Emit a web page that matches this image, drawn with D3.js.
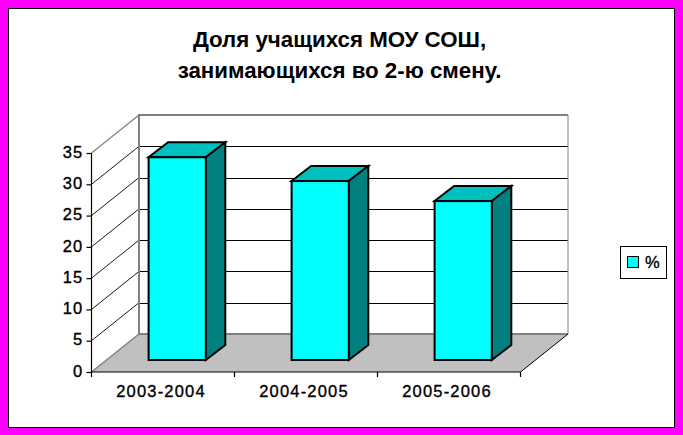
<!DOCTYPE html>
<html><head><meta charset="utf-8">
<script src="https://cdn.jsdelivr.net/npm/d3@7"></script>
<style>
html,body{margin:0;padding:0;background:#fff}
svg{display:block}
text{font-family:"Liberation Sans",Arial,sans-serif;fill:#000}
</style></head><body>
<svg id="c" width="683" height="435"></svg>
<script>
const categories = ["2003-2004","2004-2005","2005-2006"];
const values = [32.4, 28.6, 25.4];
const yTicks = [0,5,10,15,20,25,30,35];
const seriesName = "%";
const titleLines = ["Доля учащихся МОУ СОШ,","занимающихся во 2-ю смену."];

const svg = d3.select("#c");
const W = 683, H = 435;
svg.append("rect").attr("width",W).attr("height",H).attr("fill","#FF00FF");
svg.append("rect").attr("x",8.5).attr("y",8.5).attr("width",666).attr("height",419)
   .attr("fill","#fff").attr("stroke","#000").attr("stroke-width",1);

const x = d3.scaleBand().domain(categories).range([91.5,520.5]).paddingInner(0.6).paddingOuter(0.3);
const y = d3.scaleLinear().domain([0,35]).range([372,153]);
const dx = 47.5, dy = 38;           // full chart depth
const bx = 14.2, bd = 12;           // bar front-face inset from the front edge
const bdx = 19.5, bdy = 15;         // bar depth

const g = svg.append("g");
// floor
g.append("polygon")
 .attr("points",[[x.range()[0],y(0)],[x.range()[1],y(0)],[x.range()[1]+dx,y(0)-dy],[x.range()[0]+dx,y(0)-dy]].join(" "))
 .attr("fill","#C0C0C0");
// gridlines on back and side walls
yTicks.slice(1,-1).forEach(t=>{
  g.append("line").attr("x1",x.range()[0]+dx).attr("x2",x.range()[1]+dx).attr("y1",Math.round(y(t)-dy)+.5).attr("y2",Math.round(y(t)-dy)+.5)
   .attr("stroke","#000").attr("shape-rendering","crispEdges");
  g.append("line").attr("x1",x.range()[0]).attr("x2",x.range()[0]+dx).attr("y1",y(t)).attr("y2",y(t)-dy)
   .attr("stroke","#000").attr("stroke-width",.9);
});
// back wall frame
const bl = x.range()[0]+dx, br = x.range()[1]+dx, bt = y(35)-dy, bb = y(0)-dy;
g.append("path").attr("d",`M${bl},${bb}V${bt}H${br}`).attr("fill","none").attr("stroke","#808080").attr("stroke-width",2);
g.append("path").attr("d",`M${br},${bt}V${bb}`).attr("fill","none").attr("stroke","#808080").attr("stroke-width",1);
g.append("path").attr("d",`M${bl},${bb}H${br}`).attr("fill","none").attr("stroke","#808080").attr("stroke-width",2);
// side wall edges
g.append("line").attr("x1",x.range()[0]).attr("y1",y(35)).attr("x2",bl).attr("y2",bt).attr("stroke","#808080").attr("stroke-width",1.2);
g.append("line").attr("x1",x.range()[0]).attr("y1",y(0)).attr("x2",bl).attr("y2",bb).attr("stroke","#808080").attr("stroke-width",1.5);
g.append("line").attr("x1",x.range()[1]).attr("y1",y(0)).attr("x2",br).attr("y2",bb).attr("stroke","#000").attr("stroke-width",1);

// bars
const bars = g.selectAll("g.bar").data(categories.map((c,i)=>({c,v:values[i]}))).join("g").attr("class","bar");
const fx0 = d => x(d.c)+bx, fx1 = d => x(d.c)+x.bandwidth()+bx, fb = y(0)-bd, ft = d => y(d.v)-bd;
bars.append("polygon").attr("fill","#00BFBF").attr("stroke","#000").attr("stroke-width",2).attr("stroke-linejoin","miter")
 .attr("points",d=>[[fx0(d),ft(d)],[fx1(d),ft(d)],[fx1(d)+bdx,ft(d)-bdy],[fx0(d)+bdx,ft(d)-bdy]].join(" "));
bars.append("polygon").attr("fill","#008080").attr("stroke","#000").attr("stroke-width",2)
 .attr("points",d=>[[fx1(d),ft(d)],[fx1(d)+bdx,ft(d)-bdy],[fx1(d)+bdx,fb-bdy],[fx1(d),fb]].join(" "));
bars.append("rect").attr("fill","#00FFFF").attr("stroke","#000").attr("stroke-width",2)
 .attr("x",fx0).attr("y",ft).attr("width",x.bandwidth()).attr("height",d=>fb-ft(d));

// axes
const yAxis = d3.axisLeft(y).tickValues(yTicks).tickSize(5).tickPadding(3);
const ya = svg.append("g").attr("transform",`translate(${x.range()[0]},0)`).call(yAxis);
const xAxis = d3.axisBottom(x).tickSize(0).tickPadding(15);
const xa = svg.append("g").attr("transform",`translate(0,${y(0)})`).call(xAxis);
[ya,xa].forEach(a=>{
  a.selectAll("path.domain").attr("stroke","#000").attr("stroke-width",1.2);
  a.selectAll(".tick line").attr("stroke","#000").attr("stroke-width",1.2);
  a.selectAll("text").attr("font-family",'"Liberation Sans",Arial,sans-serif').attr("font-size",16.5).attr("font-weight","normal").attr("stroke","#000").attr("stroke-width",0.35).attr("fill","#000").attr("letter-spacing",1.2);
});
ya.select("path.domain").attr("d",`M0,${y(0)}V${y(35)}`);
ya.selectAll("text").attr("transform","translate(0,-1)");
xa.select("path.domain").attr("d",`M${x.range()[0]},0H${x.range()[1]}`);
xa.selectAll("text").attr("dx",-2).attr("dy",10);
// x boundary ticks
const step = x.step();
d3.range(categories.length+1).forEach(i=>{
  xa.append("line").attr("x1",x.range()[0]+i*step).attr("x2",x.range()[0]+i*step).attr("y1",0).attr("y2",5).attr("stroke","#000").attr("stroke-width",1.2);
});

// title
svg.append("g").selectAll("text").data(titleLines).join("text")
  .attr("x",339.5).attr("y",(d,i)=>47+i*31).attr("text-anchor","middle")
  .attr("font-size",22.3).attr("font-weight","bold").text(d=>d);

// legend
const lg = svg.append("g");
lg.append("rect").attr("x",620.5).attr("y",246.5).attr("width",46).attr("height",32).attr("fill","#fff").attr("stroke","#000");
lg.append("rect").attr("x",627.5).attr("y",256.5).attr("width",11).attr("height",11).attr("fill","#00FFFF").attr("stroke","#000");
lg.append("text").attr("x",645).attr("y",268).attr("font-size",16.5).attr("stroke","#000").attr("stroke-width",0.35).text(seriesName);
</script>
</body></html>
